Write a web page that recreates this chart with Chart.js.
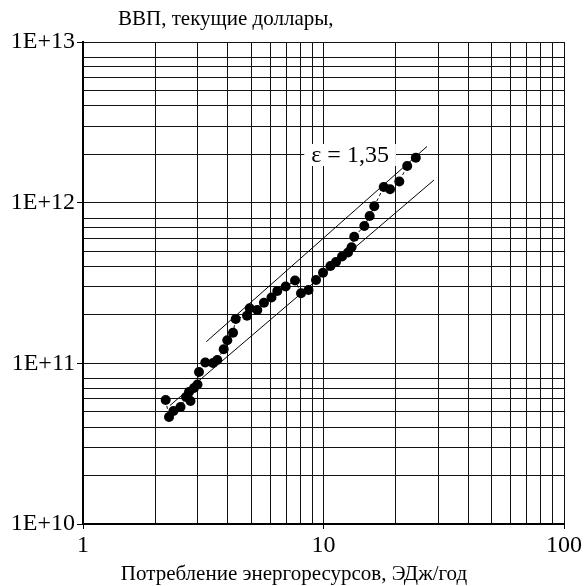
<!DOCTYPE html>
<html><head><meta charset="utf-8">
<script src="https://cdn.jsdelivr.net/npm/chart.js@4/dist/chart.umd.min.js"></script>
<style>html,body{margin:0;padding:0;background:#fff}#wrap{width:588px;height:586px}</style>
</head><body><div id="wrap"><canvas id="c" width="588" height="586"></canvas></div>
<script>
// Energy consumption, EJ/year
const energy = [2.207, 2.279, 2.378, 2.544, 2.682, 2.799, 2.759, 2.894, 2.993, 3.036,
  3.225, 3.472, 3.618, 3.846, 3.981, 4.205, 4.315, 4.808, 4.934, 5.305,
  5.655, 6.078, 6.427, 6.963, 7.614, 8.063, 8.663, 9.308, 9.952, 10.69,
  11.27, 11.94, 12.65, 13.08, 13.42, 14.78, 15.56, 16.26, 17.8, 18.91,
  20.66, 22.28, 24.2];
// GDP, current dollars
const gdp = [5.91e10, 4.63e10, 5.05e10, 5.35e10, 6.17e10, 5.83e10, 6.63e10, 7.02e10, 7.38e10, 8.83e10,
  1.012e11, 1.005e11, 1.049e11, 1.223e11, 1.391e11, 1.551e11, 1.888e11, 1.98e11, 2.2e11, 2.148e11,
  2.385e11, 2.569e11, 2.819e11, 3.008e11, 3.278e11, 2.728e11, 2.86e11, 3.302e11, 3.666e11, 4.035e11,
  4.273e11, 4.624e11, 4.896e11, 5.276e11, 6.14e11, 7.157e11, 8.26e11, 9.49e11, 1.252e12, 1.211e12,
  1.354e12, 1.691e12, 1.902e12];
// Envelope lines (elasticity 1.35)
const upperLineX = [3.256, 26.94];
const upperLineY = [1.363e11, 2.237e12];
const lowerLineX = [2.299, 28.81];
const lowerLineY = [5.465e10, 1.384e12];
// Ticks
const xMajorTicks = [1, 10, 100];
const xTickLabels = ['1', '10', '100'];
const yMajorTicks = [1e10, 1e11, 1e12, 1e13];
const yTickLabels = ['1E+10', '1E+11', '1E+12', '1E+13'];
const xMinorMultipliers = [2, 3, 4, 5, 6, 7, 8, 9];
const yMinorMultipliers = [2, 3, 4, 5, 6, 7, 8];
const yTitle = 'ВВП, текущие доллары,';
const xTitle = 'Потребление энергоресурсов, ЭДж/год';
const elasticityLabel = 'ε = 1,35';
const elasticityAt = {x: 12.9, y: 1.98e12};

const FONT = "'Liberation Serif', 'Times New Roman', serif";
const FS = 21;
const TICK_FS = 24;

function buildTicks(majors, mults) {
  const out = [];
  for (let i = 0; i < majors.length; i++) {
    out.push({value: majors[i], major: true});
    if (i < majors.length - 1) mults.forEach(m => out.push({value: majors[i] * m, major: false}));
  }
  return out;
}
function isMajor(v) { const l = Math.log10(v); return Math.abs(l - Math.round(l)) < 1e-9; }
function labelFor(v, majors, labels) {
  for (let i = 0; i < majors.length; i++) if (Math.abs(majors[i] - v) / majors[i] < 1e-9) return labels[i];
  return '';
}

const pts = energy.map((x, i) => ({x, y: gdp[i]}));

const textPlugin = {
  id: 'texts',
  afterDatasetsDraw(chart) {
    const ctx = chart.ctx;
    const xs = chart.scales.x, ys = chart.scales.y;
    ctx.save();
    ctx.fillStyle = '#000';
    ctx.textBaseline = 'middle';
    ctx.font = FS + 'px ' + FONT;
    ctx.textAlign = 'left';
    ctx.fillText(yTitle, 118, 19);
    ctx.textAlign = 'center';
    ctx.fillText(xTitle, 294, 574);
    // elasticity label with white box
    ctx.font = TICK_FS + 'px ' + FONT;
    const lx = xs.getPixelForValue(elasticityAt.x), ly = ys.getPixelForValue(elasticityAt.y);
    const w = ctx.measureText(elasticityLabel).width;
    ctx.fillStyle = '#fff';
    ctx.fillRect(lx - w / 2 - 7, ly - 11, w + 14, 22);
    ctx.fillStyle = '#000';
    ctx.fillText(elasticityLabel, lx, ly + 1);
    ctx.restore();
  }
};

new Chart(document.getElementById('c'), {
  type: 'scatter',
  data: {
    datasets: [
      {data: upperLineX.map((x, i) => ({x, y: upperLineY[i]})), showLine: true, borderColor: '#000', borderWidth: 1, pointRadius: 0, order: 2},
      {data: lowerLineX.map((x, i) => ({x, y: lowerLineY[i]})), showLine: true, borderColor: '#000', borderWidth: 1, pointRadius: 0, order: 2},
      {data: pts, showLine: true, borderColor: '#000', borderWidth: 1, borderDash: [3, 3],
       pointRadius: 5, pointBackgroundColor: '#000', pointBorderColor: '#000', pointBorderWidth: 0, order: 1}
    ]
  },
  options: {
    responsive: false,
    animation: false,
    devicePixelRatio: 1,
    layout: {padding: {top: 42, right: 24, left: 0, bottom: 0}},
    plugins: {legend: {display: false}, tooltip: {enabled: false}, title: {display: false}},
    scales: {
      x: {
        type: 'logarithmic', min: 1, max: 100,
        afterBuildTicks: s => { s.ticks = buildTicks(xMajorTicks, xMinorMultipliers); },
        afterFit: s => { s.height = 62; },
        ticks: {autoSkip: false, maxRotation: 0, color: '#000', padding: 2,
          font: {family: FONT, size: TICK_FS},
          callback: v => labelFor(v, xMajorTicks, xTickLabels)},
        grid: {color: '#111', lineWidth: 1, tickLength: 5,
          tickColor: c => (c.tick && isMajor(c.tick.value)) ? '#000' : 'rgba(0,0,0,0)'},
        border: {display: true, color: '#000', width: 2}
      },
      y: {
        type: 'logarithmic', min: 1e10, max: 1e13,
        afterBuildTicks: s => { s.ticks = buildTicks(yMajorTicks, yMinorMultipliers); },
        afterFit: s => { s.width = 83; },
        ticks: {autoSkip: false, color: '#000', padding: 2,
          font: {family: FONT, size: TICK_FS},
          callback: v => labelFor(v, yMajorTicks, yTickLabels)},
        grid: {color: '#111', lineWidth: 1, tickLength: 6,
          tickColor: c => (c.tick && isMajor(c.tick.value)) ? '#000' : 'rgba(0,0,0,0)'},
        border: {display: true, color: '#000', width: 2}
      }
    }
  },
  plugins: [textPlugin]
});
</script>
</body></html>
